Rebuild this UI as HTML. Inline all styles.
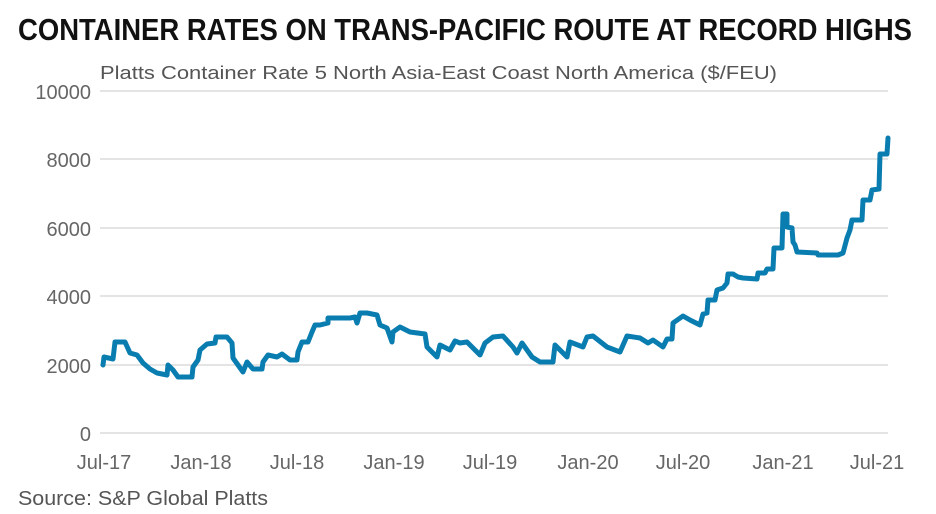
<!DOCTYPE html>
<html><head><meta charset="utf-8"><style>
html,body{margin:0;padding:0;background:#fff;}
svg{display:block;}
</style></head><body>
<svg width="936" height="514" viewBox="0 0 936 514" xmlns="http://www.w3.org/2000/svg">
<rect width="936" height="514" fill="#fff"/>
<text x="18" y="40" font-family="Liberation Sans Narrow, Liberation Sans, sans-serif" font-weight="bold" font-size="31" fill="#111" textLength="894" lengthAdjust="spacingAndGlyphs">CONTAINER RATES ON TRANS-PACIFIC ROUTE AT RECORD HIGHS</text>
<text x="100" y="79" font-family="Liberation Sans, sans-serif" font-size="18" fill="#555" textLength="677" lengthAdjust="spacingAndGlyphs">Platts Container Rate 5 North Asia-East Coast North America ($/FEU)</text>
<g stroke="#dcdcdc" stroke-width="1.5">
<line x1="100" y1="365" x2="888" y2="365"/>
<line x1="100" y1="296" x2="888" y2="296"/>
<line x1="100" y1="228" x2="888" y2="228"/>
<line x1="100" y1="159" x2="888" y2="159"/>
<line x1="100" y1="91" x2="888" y2="91"/>
<line x1="100" y1="433" x2="888" y2="433"/>
</g>
<g font-family="Liberation Sans, sans-serif" font-size="20" fill="#666" text-anchor="end">
<text x="91" y="99">10000</text>
<text x="91" y="167">8000</text>
<text x="91" y="236">6000</text>
<text x="91" y="304">4000</text>
<text x="91" y="373">2000</text>
<text x="91" y="441">0</text>
</g>
<g font-family="Liberation Sans, sans-serif" font-size="20" fill="#666" text-anchor="middle">
<text x="104" y="469">Jul-17</text>
<text x="201" y="469">Jan-18</text>
<text x="297" y="469">Jul-18</text>
<text x="394" y="469">Jan-19</text>
<text x="490" y="469">Jul-19</text>
<text x="588" y="469">Jan-20</text>
<text x="683" y="469">Jul-20</text>
<text x="783" y="469">Jan-21</text>
<text x="877" y="469">Jul-21</text>
</g>
<polyline fill="none" stroke="#0a7db0" stroke-width="5" stroke-linejoin="round" stroke-linecap="round" points="
103,365 104,357 113,359 115,342 125,342 130,353 137,355 143,363 150,369 157,373 167,375 168,365 173,370 178,377 192,377 193,367 198,360 200,350 207,344 215,343 216,337 227,337 232,343 233,358 243,372 247,362 253,369 262,369 263,362 268,355 277,357 282,354 290,360 297,360 298,352 302,342 308,342 312,332 315,325 320,325 328,323 328,318 350,318 355,317 357,323 360,313 367,313 377,315 380,325 387,328 392,342 393,332 400,327 410,332 425,334 427,347 437,357 440,345 450,350 455,341 460,343 467,342 480,355 485,343 493,337 503,336 513,347 517,353 522,343 532,357 540,362 553,362 555,345 567,357 570,342 583,347 587,337 593,336 607,347 620,352 627,336 640,338 648,343 653,340 663,347 667,339 672,339 673,323 683,316 690,320 700,325 703,314 707,313 708,300 715,300 717,290 723,288 727,283 728,274 733,274 738,277 743,278 757,279 758,273 765,273 767,269 773,269 774,248 782,248 783,214 787,214 787,227 792,228 793,242 795,245 797,252 817,253 818,255 838,255 843,253 847,238 850,230 852,220 862,220 863,200 870,200 872,190 879,189 880,154 887,154 888,138"/>
<text x="18" y="505" font-family="Liberation Sans, sans-serif" font-size="20" fill="#555" textLength="250" lengthAdjust="spacingAndGlyphs">Source: S&amp;P Global Platts</text>
</svg>
</body></html>
